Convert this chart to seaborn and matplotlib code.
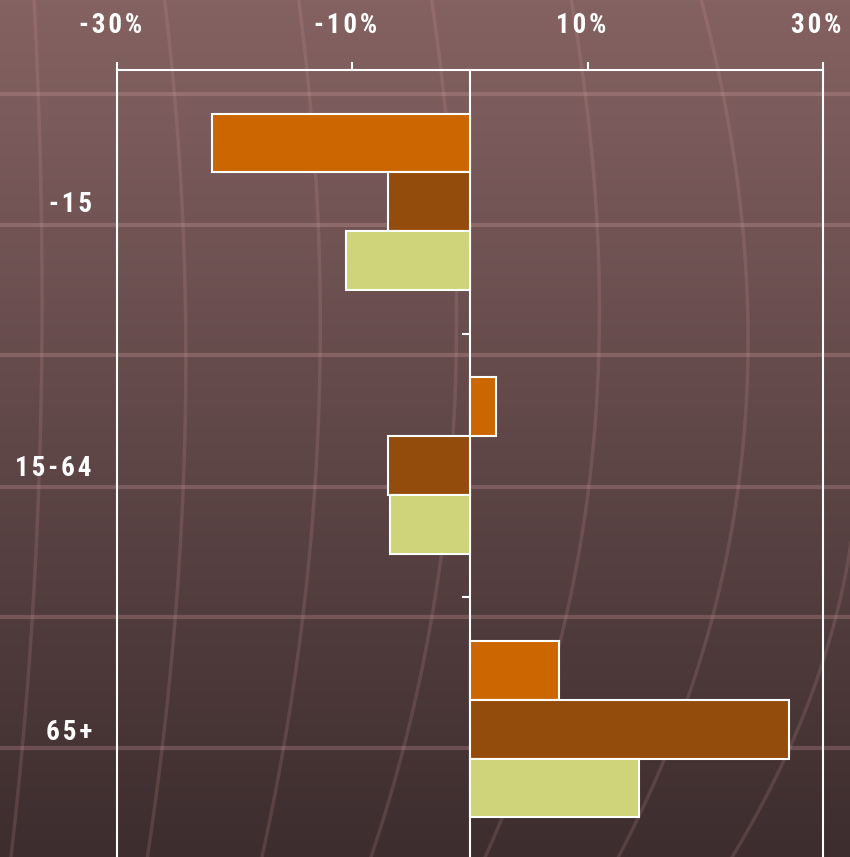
import numpy as np
import pandas as pd
import matplotlib
matplotlib.use('Agg')
import matplotlib.pyplot as plt
import matplotlib.transforms as mtransforms
import seaborn as sns
from matplotlib.colors import LinearSegmentedColormap

# ---- data ----
categories = ['-15', '15-64', '65+']
series = ['Série 1', 'Série 2', 'Série 3']
values_s1 = [-21.9, 2.2, 7.6]
values_s2 = [-7.0, -7.0, 27.1]
values_s3 = [-10.5, -6.8, 14.4]
xticks = [-30, -10, 10, 30]
xticklabels = ['-30%', '-10%', '10%', '30%']
colors = ['#CC6600', '#934C0C', '#CFD37A']

df = pd.DataFrame({
    'category': categories * 3,
    'series': np.repeat(series, len(categories)),
    'value': values_s1 + values_s2 + values_s3,
})

FONT = ['Liberation Sans Narrow', 'Roboto Condensed', 'Liberation Sans', 'DejaVu Sans']
HS = '\u200a'


def spaced(s):
    return HS.join(s) + HS


W, H = 850, 857
fig = plt.figure(figsize=(W / 100, H / 100), dpi=100)

# ---- decorative background ----
bg = fig.add_axes([0, 0, 1, 1], zorder=0)
grad = np.linspace(0, 1, 256)[:, None]
cmap = LinearSegmentedColormap.from_list('bg', ['#856262', '#3d2d2e'])
bg.imshow(grad, aspect='auto', cmap=cmap, extent=[0, W, H, 0])
bg.set_xlim(0, W)
bg.set_ylim(H, 0)
bg.axis('off')
for yh in [94, 225, 355, 487, 617, 748]:
    bg.axhline(yh, color='#e0a8a8', alpha=0.25, lw=3)
curve_y = [0, 85, 310, 590, 830, 857]
curves = [
    [34, 38, 42, 34, 14, 11],
    [165, 173, 186, 177, 152, 147],
    [300, 306, 322, 305, 268, 262],
    [432, 442, 457, 436, 380, 371],
    [572, 583, 600, 572, 495, 487],
    [703, 718, 750, 718, 633, 618],
]
yy = np.linspace(0, H, 200)
for c in curves:
    p = np.polyfit(curve_y, c, 3)
    bg.plot(np.polyval(p, yy), yy, color='#d8a0a0', alpha=0.17, lw=2.5)
c7y = [450, 590, 700, 800, 857]
c7x = [858, 845, 807, 764, 733]
p = np.polyfit(c7y, c7x, 2)
yy7 = np.linspace(420, H, 100)
bg.plot(np.polyval(p, yy7), yy7, color='#d8a0a0', alpha=0.17, lw=2.5)

# ---- main chart ----
ax_top, band = 70, 263.7
ax_h = 3 * band
ax = fig.add_axes([117 / W, (H - ax_top - ax_h) / H, 706 / W, ax_h / H], zorder=1)
ax.patch.set_alpha(0)
sns.barplot(data=df, x='value', y='category', hue='series', order=categories,
            hue_order=series, palette=colors, saturation=1, orient='h',
            width=0.669, edgecolor='white', linewidth=1.5, legend=False, ax=ax)
ax.set_xlim(-30, 30)
ax.set_ylim(2.5, -0.5)
ax.set_xlabel('')
ax.set_ylabel('')
ax.xaxis.tick_top()
ax.set_xticks(xticks)
ax.set_xticklabels([spaced(t) for t in xticklabels])
ax.set_yticks(range(len(categories)))
ax.set_yticklabels([spaced(c) for c in categories])
ax.tick_params(axis='x', direction='out', length=6, width=1.5, color='white',
               pad=16.5, labelcolor='white')
ax.tick_params(axis='y', length=0, pad=16, labelcolor='white')
shift = mtransforms.ScaledTranslation(-5 / 100, 0, fig.dpi_scale_trans)
for lab in ax.get_xticklabels():
    lab.set_transform(lab.get_transform() + shift)
for lab in ax.get_xticklabels() + ax.get_yticklabels():
    lab.set_family(FONT)
    lab.set_fontweight('bold')
    lab.set_fontsize(19.5)
for s in ['top', 'left', 'right']:
    ax.spines[s].set_color('white')
    ax.spines[s].set_linewidth(1.5)
ax.spines['bottom'].set_visible(False)

sec = ax.secondary_yaxis(0.5)
sec.set_alignment('left')
sec.set_yticks([0.5, 1.5])
sec.set_yticklabels(['', ''])
sec.tick_params(axis='y', length=6, width=1.5, color='white', direction='out')
for s in sec.spines.values():
    s.set_color('white')
    s.set_linewidth(1.5)

fig.savefig('out.png', dpi=100)
